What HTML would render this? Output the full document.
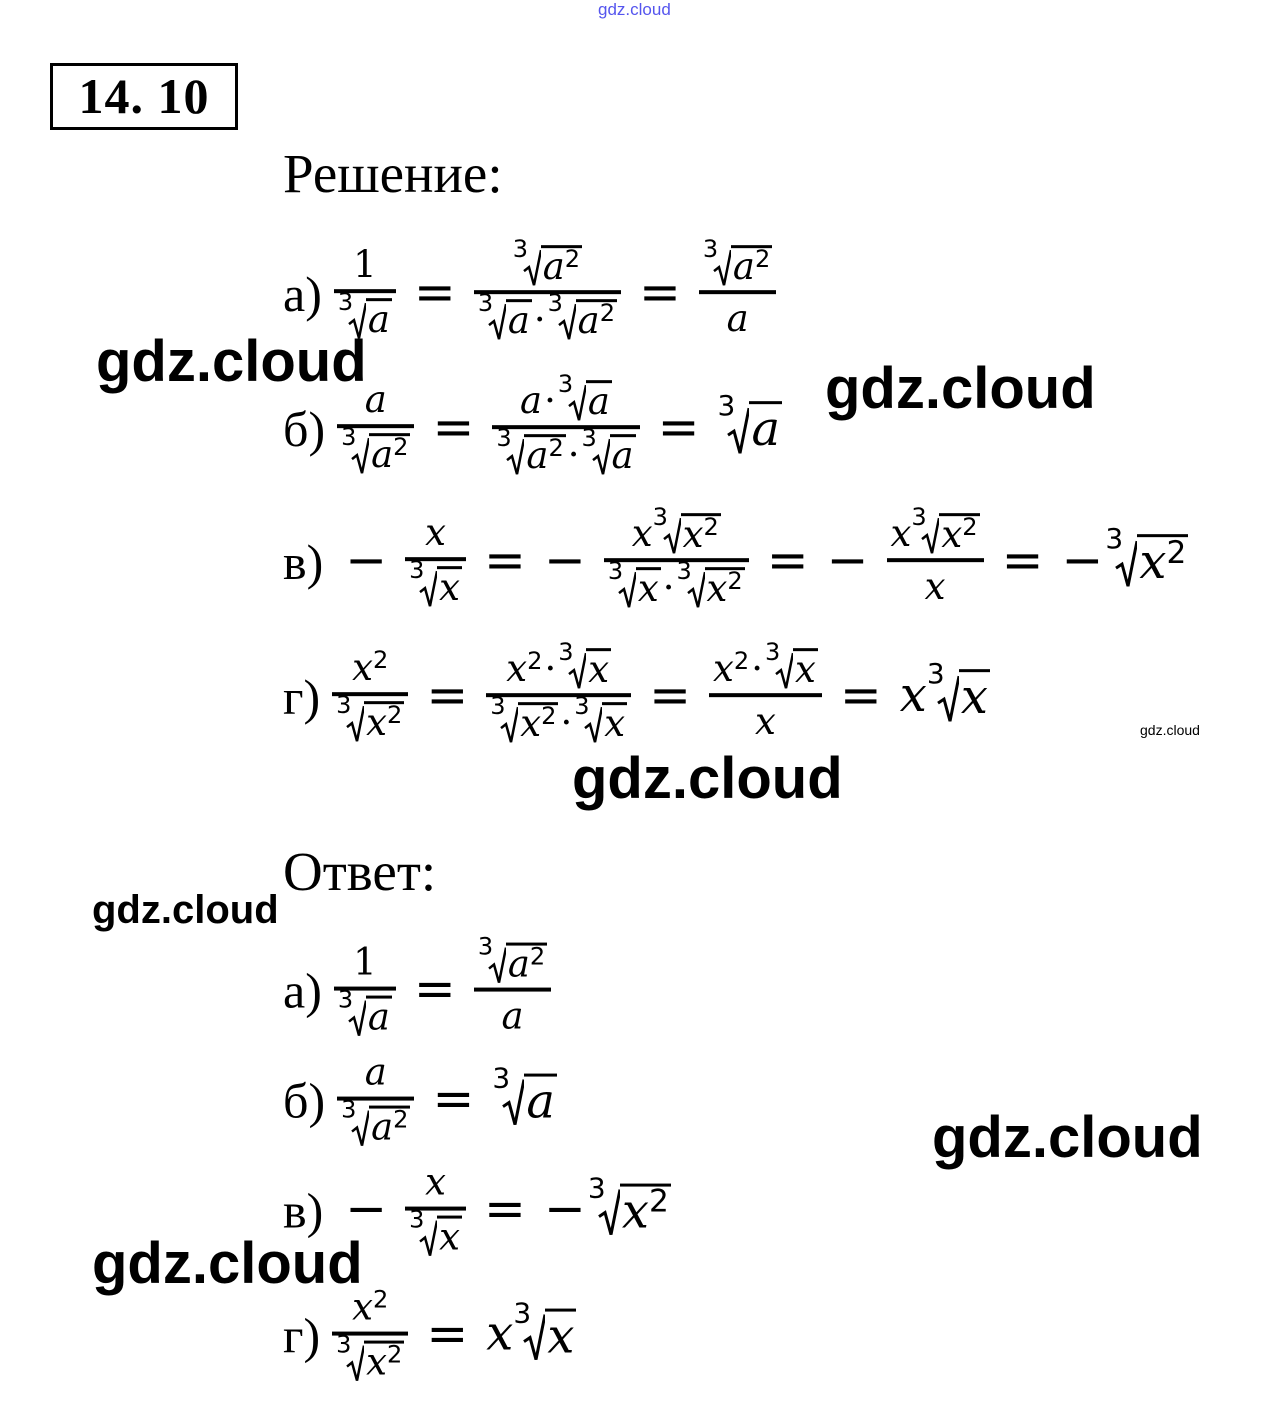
<!DOCTYPE html>
<html><head><meta charset="utf-8"><style>
body{margin:0;width:1273px;height:1406px;background:#fff;position:relative;overflow:hidden;font-family:"Liberation Serif",serif;color:#000}
.abs{position:absolute}
.wm{position:absolute;font-family:"Liberation Sans","DejaVu Sans",sans-serif;font-weight:bold;color:#000;white-space:nowrap}
.line{position:absolute;left:283px;display:flex;align-items:center;transform:translateY(-50%);white-space:nowrap}
.lab{font-size:50px;margin-right:12px;position:relative;top:2px;font-style:normal;font-family:"Liberation Serif",serif}
.m{font-family:"DejaVu Serif","Liberation Serif",serif;font-style:italic;font-size:37px}
.frac{display:inline-flex;flex-direction:column;align-items:stretch;vertical-align:middle}
.frac>.n{display:block;text-align:center;padding:0 4px 3px;white-space:nowrap}
.frac>.d{display:block;text-align:center;border-top:4px solid #000;padding:3px 4px 0;white-space:nowrap}
.eq{font-size:50px;font-family:"DejaVu Sans",sans-serif;margin:0 18px;font-style:normal}
.rad{display:inline-flex;align-items:flex-end;position:relative;padding-left:10px;vertical-align:bottom}
.rad .i{position:absolute;left:0;top:-8px;font-size:24px;font-style:normal;font-family:"DejaVu Sans",sans-serif}
.rad svg{display:block}
.rb{border-top:3px solid #000;padding:0 2px;line-height:1.05;margin-top:2px}
sup{font-size:0.65em;font-style:normal;font-family:"DejaVu Sans",sans-serif;position:relative;top:-0.5em;vertical-align:baseline;line-height:0}
.dot{font-style:normal;margin:0 2px}
.big{font-size:48px}
.big .rad .i{font-size:28px;top:-10px}
</style></head><body>
<div class="abs" style="left:598px;top:0;font-family:'Liberation Sans',sans-serif;font-size:17px;color:#55e">gdz.cloud</div>
<div class="abs" style="left:50px;top:63px;width:182px;height:61px;border:3px solid #000;font-weight:bold;font-size:50px;line-height:61px;text-align:center;letter-spacing:1px">14. 10</div>
<div class="abs" style="left:283px;top:142px;font-size:55px">Решение:</div>

<!-- a -->
<div class="line m" style="top:292px"><span class="lab">а)</span>
<span class="frac"><span class="n" style="font-style:normal">1</span><span class="d"><span class="rad"><span class="i">3</span><svg width="18" height="38"><path d="M1 22 L6 18 L11 36 L18 1" stroke="#000" stroke-width="2.5" fill="none"/></svg><span class="rb">a</span></span></span></span>
<span class="eq">=</span>
<span class="frac"><span class="n"><span class="rad"><span class="i">3</span><svg width="18" height="38"><path d="M1 22 L6 18 L11 36 L18 1" stroke="#000" stroke-width="2.5" fill="none"/></svg><span class="rb">a<sup>2</sup></span></span></span><span class="d"><span class="rad"><span class="i">3</span><svg width="18" height="38"><path d="M1 22 L6 18 L11 36 L18 1" stroke="#000" stroke-width="2.5" fill="none"/></svg><span class="rb">a</span></span><span class="dot">·</span><span class="rad"><span class="i">3</span><svg width="18" height="38"><path d="M1 22 L6 18 L11 36 L18 1" stroke="#000" stroke-width="2.5" fill="none"/></svg><span class="rb">a<sup>2</sup></span></span></span></span>
<span class="eq">=</span>
<span class="frac"><span class="n"><span class="rad"><span class="i">3</span><svg width="18" height="38"><path d="M1 22 L6 18 L11 36 L18 1" stroke="#000" stroke-width="2.5" fill="none"/></svg><span class="rb">a<sup>2</sup></span></span></span><span class="d">a</span></span>
</div>

<!-- b -->
<div class="line m" style="top:427px"><span class="lab">б)</span>
<span class="frac"><span class="n">a</span><span class="d"><span class="rad"><span class="i">3</span><svg width="18" height="38"><path d="M1 22 L6 18 L11 36 L18 1" stroke="#000" stroke-width="2.5" fill="none"/></svg><span class="rb">a<sup>2</sup></span></span></span></span>
<span class="eq">=</span>
<span class="frac"><span class="n">a<span class="dot">·</span><span class="rad"><span class="i">3</span><svg width="18" height="38"><path d="M1 22 L6 18 L11 36 L18 1" stroke="#000" stroke-width="2.5" fill="none"/></svg><span class="rb">a</span></span></span><span class="d"><span class="rad"><span class="i">3</span><svg width="18" height="38"><path d="M1 22 L6 18 L11 36 L18 1" stroke="#000" stroke-width="2.5" fill="none"/></svg><span class="rb">a<sup>2</sup></span></span><span class="dot">·</span><span class="rad"><span class="i">3</span><svg width="18" height="38"><path d="M1 22 L6 18 L11 36 L18 1" stroke="#000" stroke-width="2.5" fill="none"/></svg><span class="rb">a</span></span></span></span>
<span class="eq">=</span>
<span class="big"><span class="rad"><span class="i">3</span><svg width="22" height="48"><path d="M1 28 L7 24 L13 46 L22 1" stroke="#000" stroke-width="3" fill="none"/></svg><span class="rb">a</span></span></span>
</div>

<!-- v -->
<div class="line m" style="top:560px"><span class="lab">в)</span>
<span class="eq" style="margin-left:10px">−</span>
<span class="frac"><span class="n">x</span><span class="d"><span class="rad"><span class="i">3</span><svg width="18" height="38"><path d="M1 22 L6 18 L11 36 L18 1" stroke="#000" stroke-width="2.5" fill="none"/></svg><span class="rb">x</span></span></span></span>
<span class="eq">=</span><span class="eq" style="margin-left:0">−</span>
<span class="frac"><span class="n">x<span class="rad"><span class="i">3</span><svg width="18" height="38"><path d="M1 22 L6 18 L11 36 L18 1" stroke="#000" stroke-width="2.5" fill="none"/></svg><span class="rb">x<sup>2</sup></span></span></span><span class="d"><span class="rad"><span class="i">3</span><svg width="18" height="38"><path d="M1 22 L6 18 L11 36 L18 1" stroke="#000" stroke-width="2.5" fill="none"/></svg><span class="rb">x</span></span><span class="dot">·</span><span class="rad"><span class="i">3</span><svg width="18" height="38"><path d="M1 22 L6 18 L11 36 L18 1" stroke="#000" stroke-width="2.5" fill="none"/></svg><span class="rb">x<sup>2</sup></span></span></span></span>
<span class="eq">=</span><span class="eq" style="margin-left:0">−</span>
<span class="frac"><span class="n">x<span class="rad"><span class="i">3</span><svg width="18" height="38"><path d="M1 22 L6 18 L11 36 L18 1" stroke="#000" stroke-width="2.5" fill="none"/></svg><span class="rb">x<sup>2</sup></span></span></span><span class="d">x</span></span>
<span class="eq">=</span><span class="eq" style="margin-left:0;margin-right:2px">−</span>
<span class="big"><span class="rad"><span class="i">3</span><svg width="22" height="48"><path d="M1 28 L7 24 L13 46 L22 1" stroke="#000" stroke-width="3" fill="none"/></svg><span class="rb">x<sup>2</sup></span></span></span>
</div>

<!-- g -->
<div class="line m" style="top:695px"><span class="lab">г)</span>
<span class="frac"><span class="n">x<sup>2</sup></span><span class="d"><span class="rad"><span class="i">3</span><svg width="18" height="38"><path d="M1 22 L6 18 L11 36 L18 1" stroke="#000" stroke-width="2.5" fill="none"/></svg><span class="rb">x<sup>2</sup></span></span></span></span>
<span class="eq">=</span>
<span class="frac"><span class="n">x<sup>2</sup><span class="dot">·</span><span class="rad"><span class="i">3</span><svg width="18" height="38"><path d="M1 22 L6 18 L11 36 L18 1" stroke="#000" stroke-width="2.5" fill="none"/></svg><span class="rb">x</span></span></span><span class="d"><span class="rad"><span class="i">3</span><svg width="18" height="38"><path d="M1 22 L6 18 L11 36 L18 1" stroke="#000" stroke-width="2.5" fill="none"/></svg><span class="rb">x<sup>2</sup></span></span><span class="dot">·</span><span class="rad"><span class="i">3</span><svg width="18" height="38"><path d="M1 22 L6 18 L11 36 L18 1" stroke="#000" stroke-width="2.5" fill="none"/></svg><span class="rb">x</span></span></span></span>
<span class="eq">=</span>
<span class="frac"><span class="n">x<sup>2</sup><span class="dot">·</span><span class="rad"><span class="i">3</span><svg width="18" height="38"><path d="M1 22 L6 18 L11 36 L18 1" stroke="#000" stroke-width="2.5" fill="none"/></svg><span class="rb">x</span></span></span><span class="d">x</span></span>
<span class="eq">=</span>
<span class="big">x<span class="rad"><span class="i">3</span><svg width="22" height="48"><path d="M1 28 L7 24 L13 46 L22 1" stroke="#000" stroke-width="3" fill="none"/></svg><span class="rb">x</span></span></span>
</div>

<div class="abs" style="left:283px;top:840px;font-size:55px">Ответ:</div>

<div class="line m" style="top:989px"><span class="lab">а)</span>
<span class="frac"><span class="n" style="font-style:normal">1</span><span class="d"><span class="rad"><span class="i">3</span><svg width="18" height="38"><path d="M1 22 L6 18 L11 36 L18 1" stroke="#000" stroke-width="2.5" fill="none"/></svg><span class="rb">a</span></span></span></span>
<span class="eq">=</span>
<span class="frac"><span class="n"><span class="rad"><span class="i">3</span><svg width="18" height="38"><path d="M1 22 L6 18 L11 36 L18 1" stroke="#000" stroke-width="2.5" fill="none"/></svg><span class="rb">a<sup>2</sup></span></span></span><span class="d">a</span></span>
</div>

<div class="line m" style="top:1099px"><span class="lab">б)</span>
<span class="frac"><span class="n">a</span><span class="d"><span class="rad"><span class="i">3</span><svg width="18" height="38"><path d="M1 22 L6 18 L11 36 L18 1" stroke="#000" stroke-width="2.5" fill="none"/></svg><span class="rb">a<sup>2</sup></span></span></span></span>
<span class="eq">=</span>
<span class="big"><span class="rad"><span class="i">3</span><svg width="22" height="48"><path d="M1 28 L7 24 L13 46 L22 1" stroke="#000" stroke-width="3" fill="none"/></svg><span class="rb">a</span></span></span>
</div>

<div class="line m" style="top:1209px"><span class="lab">в)</span>
<span class="eq" style="margin-left:10px">−</span>
<span class="frac"><span class="n">x</span><span class="d"><span class="rad"><span class="i">3</span><svg width="18" height="38"><path d="M1 22 L6 18 L11 36 L18 1" stroke="#000" stroke-width="2.5" fill="none"/></svg><span class="rb">x</span></span></span></span>
<span class="eq">=</span><span class="eq" style="margin-left:0;margin-right:2px">−</span>
<span class="big"><span class="rad"><span class="i">3</span><svg width="22" height="48"><path d="M1 28 L7 24 L13 46 L22 1" stroke="#000" stroke-width="3" fill="none"/></svg><span class="rb">x<sup>2</sup></span></span></span>
</div>

<div class="line m" style="top:1334px"><span class="lab">г)</span>
<span class="frac"><span class="n">x<sup>2</sup></span><span class="d"><span class="rad"><span class="i">3</span><svg width="18" height="38"><path d="M1 22 L6 18 L11 36 L18 1" stroke="#000" stroke-width="2.5" fill="none"/></svg><span class="rb">x<sup>2</sup></span></span></span></span>
<span class="eq">=</span>
<span class="big">x<span class="rad"><span class="i">3</span><svg width="22" height="48"><path d="M1 28 L7 24 L13 46 L22 1" stroke="#000" stroke-width="3" fill="none"/></svg><span class="rb">x</span></span></span>
</div>

<div class="wm" style="left:96px;top:328px;font-size:58px">gdz.cloud</div>
<div class="wm" style="left:825px;top:355px;font-size:58px">gdz.cloud</div>
<div class="wm" style="left:572px;top:745px;font-size:58px">gdz.cloud</div>
<div class="wm" style="left:1140px;top:722px;font-size:14px;font-weight:normal">gdz.cloud</div>
<div class="wm" style="left:92px;top:888px;font-size:40px">gdz.cloud</div>
<div class="wm" style="left:932px;top:1104px;font-size:58px">gdz.cloud</div>
<div class="wm" style="left:92px;top:1230px;font-size:58px">gdz.cloud</div>
</body></html>
